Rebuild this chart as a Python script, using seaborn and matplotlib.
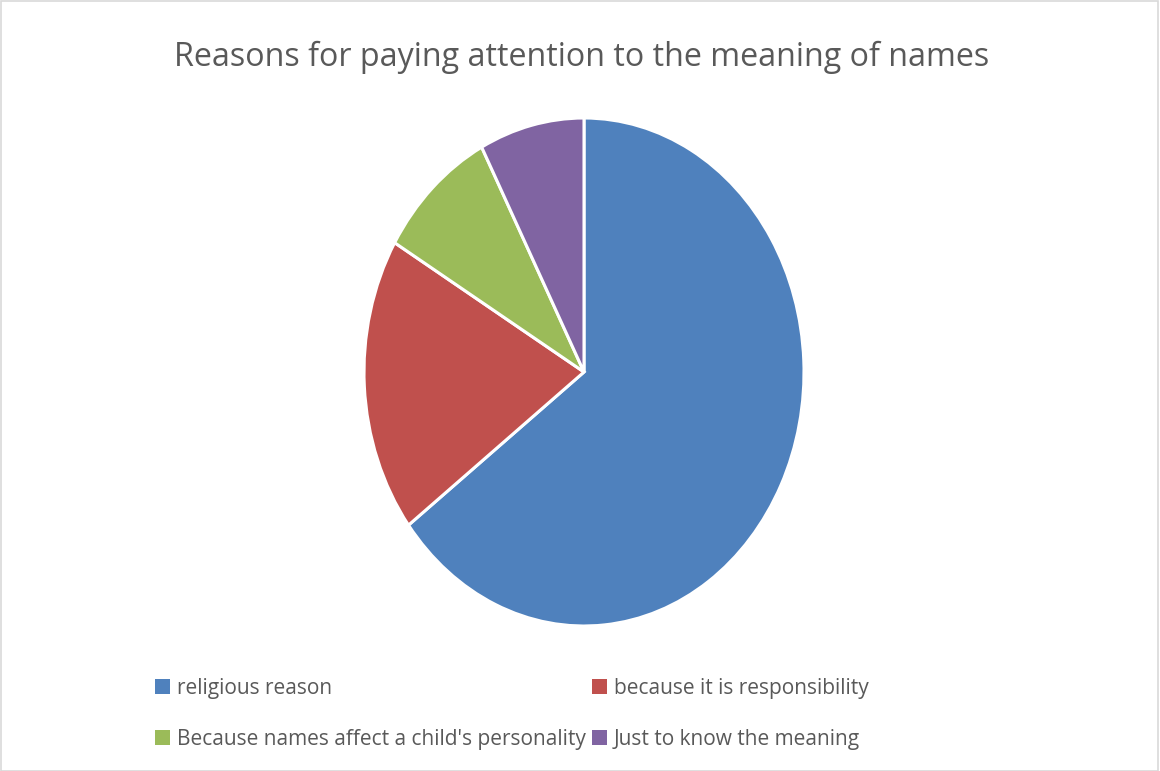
import matplotlib
matplotlib.use("Agg")
import matplotlib.pyplot as plt
import seaborn as sns
from matplotlib.patches import Rectangle, Patch

categories = ["religious reason", "because it is responsibility",
              "Because names affect a child's personality", "Just to know the meaning"]
values = [64.7, 18.8, 8.8, 7.7]
colors = ["#4F81BD", "#C0504D", "#9BBB59", "#8064A2"]
title = "Reasons for paying attention to the meaning of names"

sns.set_theme(style="white")
plt.rcParams["font.family"] = ["Open Sans", "DejaVu Sans"]

W, H = 1160, 771
fig = plt.figure(figsize=(W / 100, H / 100), dpi=100)
fig.patch.set_facecolor("white")

cx, cy, rx, ry = 584, 372, 220, 254
ax = fig.add_axes([(cx - rx) / W, (H - cy - ry) / H, 2 * rx / W, 2 * ry / H])
ax.pie(values, colors=colors, startangle=90, counterclock=False,
       wedgeprops=dict(edgecolor="white", linewidth=2.2))
ax.set_aspect("auto")
ax.set_xlim(-1, 1)
ax.set_ylim(-1, 1)
ax.axis("off")

fig.text(582 / W, 1 - 57 / H, title, ha="center", va="center",
         fontsize=23.2, color="#595959")

# legend is filled column-wise; reorder so rows read like the reference
order = [0, 2, 1, 3]
handles = [Patch(facecolor=colors[i], edgecolor="none") for i in order]
labels = [categories[i] for i in order]
leg = fig.legend(handles, labels, ncol=2, loc="upper left",
                 bbox_to_anchor=(136 / W, 1 - 659 / H), frameon=False,
                 fontsize=15, labelcolor="#595959", handlelength=0.75,
                 handleheight=0.75, handletextpad=0.3, columnspacing=0.3,
                 labelspacing=1.45)

fig.patches.append(Rectangle((1 / W, 0), 1 - 3 / W, 1 - 1 / H, transform=fig.transFigure,
                             fill=False, edgecolor="#D9D9D9", linewidth=1.2))

fig.savefig("out.png", dpi=100)
